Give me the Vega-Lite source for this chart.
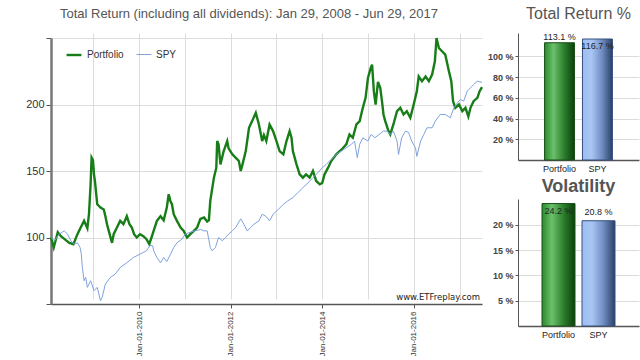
{
  "$schema": "https://vega.github.io/schema/vega-lite/v6.json",
  "background": "white",
  "padding": {"left": 11, "top": 6, "right": 2, "bottom": 0},
  "config": {"font": "Liberation Sans", "view": {"stroke": null}},
  "spacing": 0,
  "hconcat": [
    {
      "width": 431,
      "height": 271,
      "title": {"text": "Total Return (including all dividends): Jan 29, 2008 - Jun 29, 2017", "fontSize": 13, "fontWeight": "normal", "color": "#555", "anchor": "middle", "frame": "bounds", "offset": 12.5},
      "layer": [
        {
          "data": {"values": [
            {"d":"2008-01-29","s":"Portfolio","v":100},{"d":"2008-02-20","s":"Portfolio","v":92.5},{"d":"2008-03-23","s":"Portfolio","v":104},{"d":"2008-04-17","s":"Portfolio","v":101},{"d":"2008-05-14","s":"Portfolio","v":99},{"d":"2008-06-23","s":"Portfolio","v":96},{"d":"2008-07-26","s":"Portfolio","v":95},{"d":"2008-08-27","s":"Portfolio","v":102.5},{"d":"2008-09-22","s":"Portfolio","v":107.5},{"d":"2008-10-19","s":"Portfolio","v":112.5},{"d":"2008-11-14","s":"Portfolio","v":107},{"d":"2008-11-27","s":"Portfolio","v":117.5},{"d":"2008-12-10","s":"Portfolio","v":140},{"d":"2008-12-18","s":"Portfolio","v":160},{"d":"2008-12-29","s":"Portfolio","v":158},{"d":"2009-01-06","s":"Portfolio","v":147.5},{"d":"2009-01-14","s":"Portfolio","v":142},{"d":"2009-01-24","s":"Portfolio","v":132.5},{"d":"2009-02-01","s":"Portfolio","v":125},{"d":"2009-02-27","s":"Portfolio","v":122.5},{"d":"2009-03-25","s":"Portfolio","v":121},{"d":"2009-04-07","s":"Portfolio","v":116},{"d":"2009-04-20","s":"Portfolio","v":110},{"d":"2009-05-04","s":"Portfolio","v":105},{"d":"2009-05-30","s":"Portfolio","v":96},{"d":"2009-06-12","s":"Portfolio","v":102.5},{"d":"2009-07-08","s":"Portfolio","v":107.5},{"d":"2009-08-03","s":"Portfolio","v":112.5},{"d":"2009-08-29","s":"Portfolio","v":110},{"d":"2009-09-25","s":"Portfolio","v":116},{"d":"2009-10-16","s":"Portfolio","v":110},{"d":"2009-11-04","s":"Portfolio","v":107.5},{"d":"2009-11-22","s":"Portfolio","v":102.5},{"d":"2009-12-13","s":"Portfolio","v":100},{"d":"2010-01-08","s":"Portfolio","v":102.5},{"d":"2010-02-04","s":"Portfolio","v":101},{"d":"2010-03-01","s":"Portfolio","v":98.75},{"d":"2010-03-23","s":"Portfolio","v":95},{"d":"2010-04-10","s":"Portfolio","v":100},{"d":"2010-04-27","s":"Portfolio","v":105},{"d":"2010-05-23","s":"Portfolio","v":112.5},{"d":"2010-06-21","s":"Portfolio","v":116},{"d":"2010-07-16","s":"Portfolio","v":113},{"d":"2010-08-10","s":"Portfolio","v":122.5},{"d":"2010-08-25","s":"Portfolio","v":132.5},{"d":"2010-09-09","s":"Portfolio","v":127},{"d":"2010-09-20","s":"Portfolio","v":125},{"d":"2010-10-04","s":"Portfolio","v":117.5},{"d":"2010-10-30","s":"Portfolio","v":112.5},{"d":"2010-11-28","s":"Portfolio","v":107.5},{"d":"2010-12-23","s":"Portfolio","v":105},{"d":"2011-01-19","s":"Portfolio","v":100},{"d":"2011-02-14","s":"Portfolio","v":102.5},{"d":"2011-03-14","s":"Portfolio","v":105},{"d":"2011-04-09","s":"Portfolio","v":107.5},{"d":"2011-05-05","s":"Portfolio","v":114},{"d":"2011-06-03","s":"Portfolio","v":115},{"d":"2011-06-28","s":"Portfolio","v":112},{"d":"2011-07-12","s":"Portfolio","v":113},{"d":"2011-07-23","s":"Portfolio","v":127.5},{"d":"2011-08-21","s":"Portfolio","v":145},{"d":"2011-09-09","s":"Portfolio","v":152.5},{"d":"2011-09-16","s":"Portfolio","v":172.5},{"d":"2011-09-27","s":"Portfolio","v":170},{"d":"2011-10-12","s":"Portfolio","v":155},{"d":"2011-11-07","s":"Portfolio","v":165},{"d":"2011-12-05","s":"Portfolio","v":172.5},{"d":"2011-12-16","s":"Portfolio","v":167},{"d":"2012-01-15","s":"Portfolio","v":162.5},{"d":"2012-02-10","s":"Portfolio","v":160},{"d":"2012-03-07","s":"Portfolio","v":157.5},{"d":"2012-03-22","s":"Portfolio","v":150},{"d":"2012-04-05","s":"Portfolio","v":155},{"d":"2012-05-01","s":"Portfolio","v":165},{"d":"2012-05-27","s":"Portfolio","v":182.5},{"d":"2012-06-21","s":"Portfolio","v":187.5},{"d":"2012-07-20","s":"Portfolio","v":193.75},{"d":"2012-08-14","s":"Portfolio","v":185},{"d":"2012-09-09","s":"Portfolio","v":172.5},{"d":"2012-09-23","s":"Portfolio","v":177},{"d":"2012-10-12","s":"Portfolio","v":172.5},{"d":"2012-11-07","s":"Portfolio","v":185},{"d":"2012-12-05","s":"Portfolio","v":180},{"d":"2013-01-01","s":"Portfolio","v":172.5},{"d":"2013-01-26","s":"Portfolio","v":165},{"d":"2013-02-25","s":"Portfolio","v":162.5},{"d":"2013-03-22","s":"Portfolio","v":172.5},{"d":"2013-04-16","s":"Portfolio","v":180},{"d":"2013-05-01","s":"Portfolio","v":175},{"d":"2013-05-12","s":"Portfolio","v":165},{"d":"2013-06-10","s":"Portfolio","v":155},{"d":"2013-07-05","s":"Portfolio","v":147.5},{"d":"2013-07-31","s":"Portfolio","v":145},{"d":"2013-08-25","s":"Portfolio","v":147.5},{"d":"2013-09-23","s":"Portfolio","v":145},{"d":"2013-10-19","s":"Portfolio","v":150},{"d":"2013-11-14","s":"Portfolio","v":142.5},{"d":"2013-12-13","s":"Portfolio","v":140},{"d":"2014-01-01","s":"Portfolio","v":141},{"d":"2014-01-19","s":"Portfolio","v":147.5},{"d":"2014-02-17","s":"Portfolio","v":152.5},{"d":"2014-03-14","s":"Portfolio","v":157.5},{"d":"2014-04-23","s":"Portfolio","v":162.5},{"d":"2014-06-03","s":"Portfolio","v":166},{"d":"2014-07-12","s":"Portfolio","v":170},{"d":"2014-08-07","s":"Portfolio","v":177.5},{"d":"2014-09-02","s":"Portfolio","v":175},{"d":"2014-10-01","s":"Portfolio","v":185},{"d":"2014-10-27","s":"Portfolio","v":187.5},{"d":"2014-11-21","s":"Portfolio","v":197.5},{"d":"2014-12-13","s":"Portfolio","v":205},{"d":"2015-01-01","s":"Portfolio","v":220},{"d":"2015-01-23","s":"Portfolio","v":227.5},{"d":"2015-02-03","s":"Portfolio","v":230},{"d":"2015-02-17","s":"Portfolio","v":210},{"d":"2015-03-03","s":"Portfolio","v":200},{"d":"2015-03-22","s":"Portfolio","v":217},{"d":"2015-04-09","s":"Portfolio","v":212.5},{"d":"2015-04-23","s":"Portfolio","v":202.5},{"d":"2015-05-05","s":"Portfolio","v":192.5},{"d":"2015-05-19","s":"Portfolio","v":187.5},{"d":"2015-06-14","s":"Portfolio","v":180},{"d":"2015-06-28","s":"Portfolio","v":177.5},{"d":"2015-07-23","s":"Portfolio","v":185},{"d":"2015-08-21","s":"Portfolio","v":195},{"d":"2015-09-16","s":"Portfolio","v":197.5},{"d":"2015-10-12","s":"Portfolio","v":192.5},{"d":"2015-11-07","s":"Portfolio","v":195},{"d":"2015-12-05","s":"Portfolio","v":190},{"d":"2016-01-01","s":"Portfolio","v":200},{"d":"2016-01-26","s":"Portfolio","v":210},{"d":"2016-02-10","s":"Portfolio","v":221},{"d":"2016-03-07","s":"Portfolio","v":217.5},{"d":"2016-04-05","s":"Portfolio","v":221},{"d":"2016-05-01","s":"Portfolio","v":217.5},{"d":"2016-05-27","s":"Portfolio","v":222.5},{"d":"2016-06-18","s":"Portfolio","v":232.5},{"d":"2016-07-01","s":"Portfolio","v":250},{"d":"2016-07-20","s":"Portfolio","v":242.5},{"d":"2016-08-14","s":"Portfolio","v":240},{"d":"2016-09-09","s":"Portfolio","v":237.5},{"d":"2016-10-08","s":"Portfolio","v":225},{"d":"2016-10-27","s":"Portfolio","v":217.5},{"d":"2016-11-10","s":"Portfolio","v":202.5},{"d":"2016-11-28","s":"Portfolio","v":197.5},{"d":"2016-12-27","s":"Portfolio","v":200},{"d":"2017-01-23","s":"Portfolio","v":195},{"d":"2017-02-17","s":"Portfolio","v":197.5},{"d":"2017-03-12","s":"Portfolio","v":191},{"d":"2017-03-29","s":"Portfolio","v":197.5},{"d":"2017-04-23","s":"Portfolio","v":202.5},{"d":"2017-05-23","s":"Portfolio","v":205},{"d":"2017-06-10","s":"Portfolio","v":210},{"d":"2017-06-29","s":"Portfolio","v":213.1},
            {"d":"2008-01-29","s":"SPY","v":100},{"d":"2008-02-25","s":"SPY","v":97.5},{"d":"2008-04-04","s":"SPY","v":102.5},{"d":"2008-05-14","s":"SPY","v":105},{"d":"2008-06-10","s":"SPY","v":102.5},{"d":"2008-07-05","s":"SPY","v":97.5},{"d":"2008-08-01","s":"SPY","v":95},{"d":"2008-08-27","s":"SPY","v":96},{"d":"2008-09-17","s":"SPY","v":92.5},{"d":"2008-09-27","s":"SPY","v":87.5},{"d":"2008-10-05","s":"SPY","v":77.5},{"d":"2008-10-19","s":"SPY","v":67.5},{"d":"2008-11-01","s":"SPY","v":70},{"d":"2008-11-14","s":"SPY","v":62.5},{"d":"2008-11-27","s":"SPY","v":65},{"d":"2008-12-10","s":"SPY","v":67.5},{"d":"2009-01-06","s":"SPY","v":60},{"d":"2009-02-01","s":"SPY","v":62.5},{"d":"2009-02-27","s":"SPY","v":52.5},{"d":"2009-03-12","s":"SPY","v":55},{"d":"2009-04-07","s":"SPY","v":65},{"d":"2009-05-17","s":"SPY","v":70},{"d":"2009-06-25","s":"SPY","v":72.5},{"d":"2009-08-03","s":"SPY","v":77.5},{"d":"2009-09-25","s":"SPY","v":81},{"d":"2009-11-17","s":"SPY","v":85},{"d":"2010-01-08","s":"SPY","v":87.5},{"d":"2010-03-01","s":"SPY","v":90},{"d":"2010-03-28","s":"SPY","v":94},{"d":"2010-04-20","s":"SPY","v":93.7},{"d":"2010-04-27","s":"SPY","v":90},{"d":"2010-05-23","s":"SPY","v":85},{"d":"2010-06-21","s":"SPY","v":81},{"d":"2010-07-16","s":"SPY","v":85},{"d":"2010-08-10","s":"SPY","v":82},{"d":"2010-09-09","s":"SPY","v":87.5},{"d":"2010-10-04","s":"SPY","v":92.5},{"d":"2010-10-30","s":"SPY","v":96},{"d":"2010-12-09","s":"SPY","v":98.75},{"d":"2011-01-04","s":"SPY","v":102.5},{"d":"2011-02-14","s":"SPY","v":104},{"d":"2011-03-25","s":"SPY","v":105},{"d":"2011-05-05","s":"SPY","v":106},{"d":"2011-06-03","s":"SPY","v":105},{"d":"2011-06-28","s":"SPY","v":105},{"d":"2011-07-23","s":"SPY","v":92.5},{"d":"2011-08-07","s":"SPY","v":90},{"d":"2011-09-02","s":"SPY","v":92.5},{"d":"2011-09-27","s":"SPY","v":100},{"d":"2011-10-27","s":"SPY","v":97.5},{"d":"2011-11-21","s":"SPY","v":100},{"d":"2011-12-16","s":"SPY","v":102.5},{"d":"2012-01-15","s":"SPY","v":105},{"d":"2012-02-10","s":"SPY","v":107.5},{"d":"2012-03-22","s":"SPY","v":114},{"d":"2012-04-16","s":"SPY","v":110},{"d":"2012-05-12","s":"SPY","v":105},{"d":"2012-06-10","s":"SPY","v":107.5},{"d":"2012-07-05","s":"SPY","v":110},{"d":"2012-08-14","s":"SPY","v":112.5},{"d":"2012-09-09","s":"SPY","v":117.5},{"d":"2012-10-08","s":"SPY","v":116},{"d":"2012-11-07","s":"SPY","v":112.5},{"d":"2012-12-05","s":"SPY","v":117.5},{"d":"2013-01-15","s":"SPY","v":121},{"d":"2013-02-25","s":"SPY","v":125},{"d":"2013-04-01","s":"SPY","v":127.5},{"d":"2013-05-12","s":"SPY","v":130},{"d":"2013-06-21","s":"SPY","v":133.75},{"d":"2013-07-31","s":"SPY","v":137.5},{"d":"2013-09-09","s":"SPY","v":141},{"d":"2013-10-19","s":"SPY","v":145},{"d":"2013-11-28","s":"SPY","v":148.75},{"d":"2014-01-01","s":"SPY","v":152.5},{"d":"2014-02-03","s":"SPY","v":155},{"d":"2014-03-14","s":"SPY","v":158.75},{"d":"2014-04-23","s":"SPY","v":162.5},{"d":"2014-06-03","s":"SPY","v":165},{"d":"2014-07-12","s":"SPY","v":167.5},{"d":"2014-08-21","s":"SPY","v":170},{"d":"2014-09-16","s":"SPY","v":172.5},{"d":"2014-10-08","s":"SPY","v":160},{"d":"2014-10-27","s":"SPY","v":170},{"d":"2014-11-21","s":"SPY","v":175},{"d":"2015-01-01","s":"SPY","v":172.5},{"d":"2015-01-26","s":"SPY","v":177.5},{"d":"2015-02-25","s":"SPY","v":175},{"d":"2015-04-01","s":"SPY","v":177.5},{"d":"2015-05-05","s":"SPY","v":180},{"d":"2015-06-03","s":"SPY","v":180},{"d":"2015-06-28","s":"SPY","v":177.5},{"d":"2015-07-23","s":"SPY","v":180},{"d":"2015-08-21","s":"SPY","v":172.5},{"d":"2015-09-02","s":"SPY","v":162.5},{"d":"2015-09-27","s":"SPY","v":175},{"d":"2015-10-27","s":"SPY","v":180},{"d":"2015-11-21","s":"SPY","v":179},{"d":"2015-12-16","s":"SPY","v":172.5},{"d":"2016-01-15","s":"SPY","v":167.5},{"d":"2016-01-26","s":"SPY","v":161},{"d":"2016-02-25","s":"SPY","v":172.5},{"d":"2016-03-22","s":"SPY","v":177.5},{"d":"2016-04-16","s":"SPY","v":182.5},{"d":"2016-05-27","s":"SPY","v":182.5},{"d":"2016-06-21","s":"SPY","v":187.5},{"d":"2016-07-31","s":"SPY","v":192.5},{"d":"2016-09-09","s":"SPY","v":192.5},{"d":"2016-10-19","s":"SPY","v":190},{"d":"2016-11-17","s":"SPY","v":197.5},{"d":"2016-12-13","s":"SPY","v":201},{"d":"2017-01-08","s":"SPY","v":203.75},{"d":"2017-02-03","s":"SPY","v":202.5},{"d":"2017-03-03","s":"SPY","v":210},{"d":"2017-03-29","s":"SPY","v":212.5},{"d":"2017-04-23","s":"SPY","v":215},{"d":"2017-05-23","s":"SPY","v":217.5},{"d":"2017-06-29","s":"SPY","v":216.7}
          ]},
          "mark": {"type": "line", "interpolate": "linear"},
          "encoding": {
            "x": {"field": "d", "type": "temporal",
              "scale": {"domain": ["2008-01-29", "2017-06-29"]},
              "axis": {"title": null,
                "values": [{"year":2009,"month":1,"date":1},{"year":2010,"month":1,"date":1},{"year":2011,"month":1,"date":1},{"year":2012,"month":1,"date":1},{"year":2013,"month":1,"date":1},{"year":2014,"month":1,"date":1},{"year":2015,"month":1,"date":1},{"year":2016,"month":1,"date":1},{"year":2017,"month":1,"date":1}],
                "labelExpr": "year(datum.value) % 2 == 0 ? timeFormat(datum.value, '%b-%d-%Y') : ''",
                "labelAngle": 270, "labelAlign": "right", "labelBaseline": "middle",
                "labelFontSize": 8, "labelColor": "#333", "labelPadding": 3,
                "gridColor": "#dcdcdc", "domainColor": "#555", "domainWidth": 1.5,
                "tickSize": 4,
                "tickColor": {"condition": {"test": "year(datum.value) % 2 == 0", "value": "#555"}, "value": "transparent"}}},
            "y": {"field": "v", "type": "quantitative",
              "scale": {"domain": [50, 250], "nice": false, "zero": false, "range": [271, 5]},
              "axis": {"title": null, "values": [50, 100, 150, 200, 250],
                "labelExpr": "datum.value == 50 || datum.value == 250 ? '' : datum.label",
                "gridColor": "#dcdcdc", "domainColor": "#777", "domainWidth": 2.5,
                "tickColor": "#555", "tickSize": 5, "labelFontSize": 11, "labelColor": "#333",
                "minExtent": 40, "maxExtent": 40}},
            "color": {"field": "s", "type": "nominal",
              "scale": {"domain": ["Portfolio", "SPY"], "range": ["#177d17", "#7fa2de"]},
              "legend": {"title": null, "orient": "none", "legendX": 14, "legendY": 13, "direction": "horizontal",
                "symbolType": "stroke", "symbolStrokeWidth": 2.5, "symbolSize": 220,
                "labelFontSize": 10, "labelColor": "#333", "columnPadding": 10}},
            "strokeWidth": {"field": "s", "type": "nominal",
              "scale": {"domain": ["Portfolio", "SPY"], "range": [2.4, 1]}, "legend": null}
          }
        },
        {
          "data": {"values": [{}]},
          "mark": {"type": "text", "align": "right", "baseline": "bottom", "dx": -2, "dy": -2, "fontSize": 8.5, "font": "DejaVu Sans", "color": "#222"},
          "encoding": {
            "x": {"datum": {"year": 2017, "month": 6, "date": 29}, "type": "temporal"},
            "y": {"datum": 50, "type": "quantitative"},
            "text": {"value": "www.ETFreplay.com"}
          }
        }
      ]
    },
    {
      "spacing": 5,
      "vconcat": [
        {
          "width": 121,
          "height": 127,
          "title": {"text": "Total Return %", "fontSize": 16, "fontWeight": "normal", "color": "#555", "anchor": "middle", "offset": 10.5},
          "data": {"values": [{"n": "Portfolio", "v": 113.1, "label": "113.1 %"}, {"n": "SPY", "v": 116.7, "label": "116.7 %"}]},
          "encoding": {
            "x": {"field": "n", "type": "nominal", "sort": null,
              "scale": {"paddingInner": 0.21, "paddingOuter": 0.7},
              "axis": {"title": null, "labelAngle": 0, "ticks": false, "labelFontSize": 9, "labelColor": "#222", "labelPadding": 4, "domainColor": "#555", "domainWidth": 1.5}},
            "y": {"field": "v", "type": "quantitative",
              "scale": {"domain": [0, 122.5], "nice": false},
              "axis": {"title": null, "values": [20, 40, 60, 80, 100], "labelExpr": "datum.value + ' %'",
                "labelFontSize": 9, "labelFontWeight": "bold", "labelColor": "#444",
                "gridColor": "#dcdcdc", "domainColor": "#555", "tickColor": "#555", "tickSize": 3,
                "minExtent": 26, "maxExtent": 26}}
          },
          "layer": [
            {"transform": [{"filter": "datum.n == 'Portfolio'"}],
             "mark": {"type": "bar", "stroke": "#1a4f1a", "strokeWidth": 1,
               "fill": {"gradient": "linear", "x1": 0, "y1": 0, "x2": 1, "y2": 0,
                 "stops": [{"offset": 0, "color": "#2a8a2a"}, {"offset": 0.3, "color": "#6cc06c"}, {"offset": 0.65, "color": "#2c7f2c"}, {"offset": 1, "color": "#0b3f0b"}]}}},
            {"transform": [{"filter": "datum.n == 'SPY'"}],
             "mark": {"type": "bar", "stroke": "#34507e", "strokeWidth": 1,
               "fill": {"gradient": "linear", "x1": 0, "y1": 0, "x2": 1, "y2": 0,
                 "stops": [{"offset": 0, "color": "#9dbdf2"}, {"offset": 0.3, "color": "#a9c6f3"}, {"offset": 0.65, "color": "#6f8dc2"}, {"offset": 1, "color": "#2b4066"}]}}},
            {"transform": [{"filter": "datum.v < 115"}],
             "mark": {"type": "text", "baseline": "bottom", "dy": -1, "fontSize": 9, "color": "#222"},
             "encoding": {"text": {"field": "label"}}},
            {"transform": [{"filter": "datum.v >= 115"}],
             "mark": {"type": "text", "baseline": "top", "dy": 3, "fontSize": 9, "color": "#222"},
             "encoding": {"text": {"field": "label"}}}
          ]
        },
        {
          "width": 121,
          "height": 127,
          "title": {"text": "Volatility", "fontSize": 18, "fontWeight": "bold", "color": "#555", "anchor": "middle", "offset": 3},
          "data": {"values": [{"n": "Portfolio", "v": 24.2, "label": "24.2 %"}, {"n": "SPY", "v": 20.8, "label": "20.8 %"}]},
          "encoding": {
            "x": {"field": "n", "type": "nominal", "sort": null,
              "scale": {"paddingInner": 0.175, "paddingOuter": 0.6},
              "axis": {"title": null, "labelAngle": 0, "ticks": false, "labelFontSize": 9, "labelColor": "#222", "labelPadding": 4, "domainColor": "#555", "domainWidth": 1.5}},
            "y": {"field": "v", "type": "quantitative",
              "scale": {"domain": [0, 25.1], "nice": false},
              "axis": {"title": null, "values": [5, 10, 15, 20], "labelExpr": "datum.value + ' %'",
                "labelFontSize": 9, "labelFontWeight": "bold", "labelColor": "#444",
                "gridColor": "#dcdcdc", "domainColor": "#555", "tickColor": "#555", "tickSize": 3,
                "minExtent": 26, "maxExtent": 26}}
          },
          "layer": [
            {"transform": [{"filter": "datum.n == 'Portfolio'"}],
             "mark": {"type": "bar", "stroke": "#1a4f1a", "strokeWidth": 1,
               "fill": {"gradient": "linear", "x1": 0, "y1": 0, "x2": 1, "y2": 0,
                 "stops": [{"offset": 0, "color": "#2a8a2a"}, {"offset": 0.3, "color": "#6cc06c"}, {"offset": 0.65, "color": "#2c7f2c"}, {"offset": 1, "color": "#0b3f0b"}]}}},
            {"transform": [{"filter": "datum.n == 'SPY'"}],
             "mark": {"type": "bar", "stroke": "#34507e", "strokeWidth": 1,
               "fill": {"gradient": "linear", "x1": 0, "y1": 0, "x2": 1, "y2": 0,
                 "stops": [{"offset": 0, "color": "#9dbdf2"}, {"offset": 0.3, "color": "#a9c6f3"}, {"offset": 0.65, "color": "#6f8dc2"}, {"offset": 1, "color": "#2b4066"}]}}},
            {"transform": [{"filter": "datum.v < 23"}],
             "mark": {"type": "text", "baseline": "bottom", "dy": -4, "fontSize": 9, "color": "#222"},
             "encoding": {"text": {"field": "label"}}},
            {"transform": [{"filter": "datum.v >= 23"}],
             "mark": {"type": "text", "baseline": "top", "dy": 3, "fontSize": 9, "color": "#222"},
             "encoding": {"text": {"field": "label"}}}
          ]
        }
      ]
    }
  ]
}
